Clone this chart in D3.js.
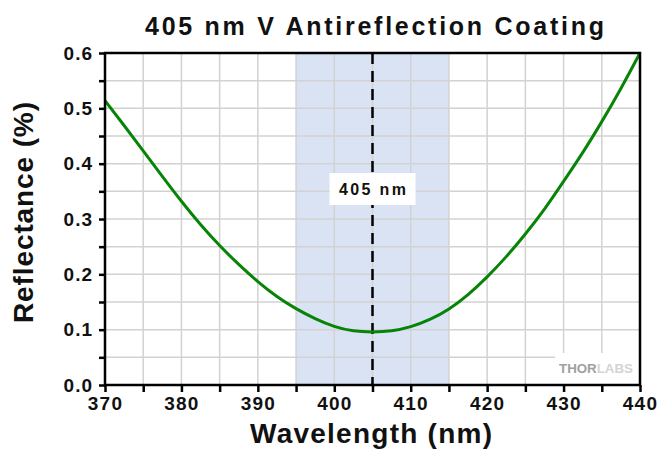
<!DOCTYPE html>
<html><head><meta charset="utf-8">
<script src="https://cdn.jsdelivr.net/npm/d3@7"></script>
<style>body{margin:0;background:#fff}svg{display:block;font-family:"Liberation Sans",Arial,sans-serif}</style>
</head><body><svg id="c" width="658" height="453"></svg>
<script>
const wavelength = [370,372.5,375,377.5,380,382.5,385,387.5,390,392.5,395,397.5,400,402.5,405,407.5,410,412.5,415,417.5,420,422.5,425,427.5,430,432.5,435,437.5,440];
const reflectance = [0.514,0.469,0.423,0.377,0.332,0.290,0.252,0.218,0.187,0.160,0.138,0.120,0.106,0.098,0.096,0.098,0.1055,0.1185,0.1375,0.1635,0.1955,0.232,0.273,0.318,0.368,0.420,0.476,0.536,0.600];
const xTicks = [370,380,390,400,410,420,430,440];
const yTicks = [0.0,0.1,0.2,0.3,0.4,0.5,0.6];
const band = [395,415];
const markerWl = 405;
const title = "405 nm V Antireflection Coating";
const xTitle = "Wavelength (nm)";
const yTitle = "Reflectance (%)";
const markerLabel = "405 nm";

const svg = d3.select("#c");
const L=105,R=640,T=53,B=385;
const x = d3.scaleLinear().domain([370,440]).range([L,R]);
const y = d3.scaleLinear().domain([0,0.6]).range([B,T]);

// band
svg.append("rect").attr("x",x(band[0])).attr("y",T).attr("width",x(band[1])-x(band[0])).attr("height",B-T).attr("fill","#dae3f4");

// grid
const g = svg.append("g").attr("stroke","#d2d2d2").attr("stroke-width",1.5);
d3.range(375,440,5).forEach(v=>{
  const yEnd = (v>=430)? 353 : B;
  g.append("line").attr("x1",x(v)).attr("x2",x(v)).attr("y1",T).attr("y2",yEnd);
});
d3.range(1,12).map(i=>i*0.05).forEach(v=>{
  const xEnd = (v<0.075)? 555 : R;
  g.append("line").attr("x1",L).attr("x2",xEnd).attr("y1",y(v)).attr("y2",y(v));
});

// watermark
svg.append("text").attr("x",559).attr("y",373).attr("font-size",13.5).attr("font-weight","bold")
  .attr("textLength",74).attr("lengthAdjust","spacingAndGlyphs")
  .html('<tspan fill="#a0a0a0">THOR</tspan><tspan fill="#d4d4d4">LABS</tspan>');

// marker dashed line
svg.append("line").attr("x1",x(markerWl)).attr("x2",x(markerWl)).attr("y1",T).attr("y2",B)
  .attr("stroke","#000").attr("stroke-width",2.5).attr("stroke-dasharray","11,7");

// marker label box
svg.append("rect").attr("x",x(markerWl)-43).attr("y",173).attr("width",86).attr("height",32).attr("fill","#fff");
svg.append("text").attr("x",x(markerWl)).attr("y",195).attr("text-anchor","middle").attr("font-size",16).attr("font-weight","bold")
  .attr("textLength",67).attr("lengthAdjust","spacing").attr("fill","#111").text(markerLabel);

// curve
const pts = wavelength.map((w,i)=>[w,reflectance[i]]);
svg.append("path").datum(pts).attr("fill","none").attr("stroke","#078407").attr("stroke-width",3)
  .attr("d",d3.line().x(d=>x(d[0])).y(d=>y(d[1])).curve(d3.curveNatural));

// frame
svg.append("rect").attr("x",L).attr("y",T).attr("width",R-L).attr("height",B-T).attr("fill","none").attr("stroke","#000").attr("stroke-width",2.5);

// axes
const xAxis = d3.axisBottom(x).tickValues(d3.range(370,441,5)).tickSize(7).tickFormat(d=>xTicks.includes(d)?d:"");
const xa = svg.append("g").attr("transform",`translate(0,${B})`).call(xAxis);
xa.select(".domain").remove();
xa.selectAll("line").attr("stroke","#000").attr("stroke-width",2.5);
xa.selectAll("text").attr("font-size",19).attr("font-weight","bold").attr("fill","#111").attr("letter-spacing",1.2).attr("dy","0.71em").attr("y",12);

const yAxis = d3.axisLeft(y).tickValues(d3.range(0,13).map(i=>i*0.05)).tickSize(6).tickFormat(d=>{const m=yTicks.find(t=>Math.abs(t-d)<1e-6);return m!==undefined?d3.format(".1f")(m):"";});
const ya = svg.append("g").attr("transform",`translate(${L},0)`).call(yAxis);
ya.select(".domain").remove();
ya.selectAll("line").attr("stroke","#000").attr("stroke-width",2.5);
ya.selectAll("text").attr("font-size",19).attr("font-weight","bold").attr("fill","#111").attr("letter-spacing",1).attr("x",-12);

// titles
svg.append("text").attr("x",374.5).attr("y",35).attr("text-anchor","middle").attr("font-size",25).attr("font-weight","bold")
  .attr("textLength",459).attr("lengthAdjust","spacing").attr("fill","#111").text(title);
svg.append("text").attr("x",371).attr("y",443).attr("text-anchor","middle").attr("font-size",28).attr("font-weight","bold")
  .attr("textLength",242).attr("lengthAdjust","spacing").attr("fill","#111").text(xTitle);
svg.append("text").attr("transform","translate(33,212.5) rotate(-90)").attr("text-anchor","middle").attr("font-size",28).attr("font-weight","bold")
  .attr("textLength",221).attr("lengthAdjust","spacing").attr("fill","#111").text(yTitle);
</script></body></html>
